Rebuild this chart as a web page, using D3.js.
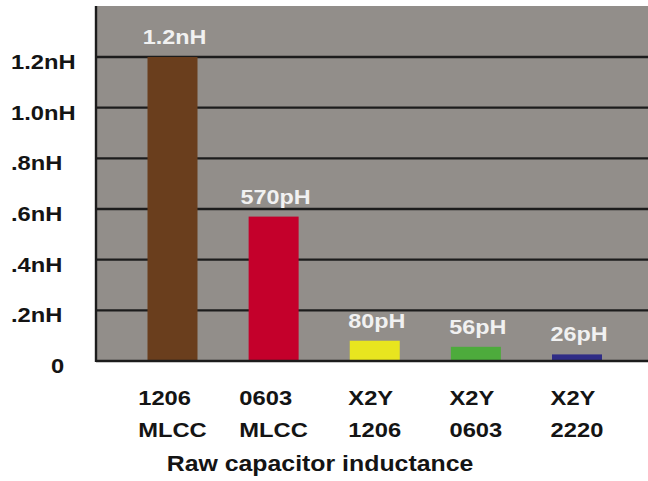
<!DOCTYPE html>
<html>
<head>
<meta charset="utf-8">
<script src="https://cdn.jsdelivr.net/npm/d3@7"></script>
<style>
  body { margin: 0; background: #fff; }
  text { font-family: "Liberation Sans", Arial, sans-serif; font-weight: bold; }
</style>
</head>
<body>
<script>
(function() {

    var width = 648;
    var height = 481;

    // data (values in nH)
    const parts = ["1206 MLCC", "0603 MLCC", "X2Y 1206", "X2Y 0603", "X2Y 2220"];
    const partLines = [["1206", "MLCC"], ["0603", "MLCC"], ["X2Y", "1206"], ["X2Y", "0603"], ["X2Y", "2220"]];
    const inductance = [1.2, 0.57, 0.08, 0.056, 0.026];
    const valueLabels = ["1.2nH", "570pH", "80pH", "56pH", "26pH"];
    const barColors = ["#6a3e1d", "#c4002b", "#e8e51f", "#4dab3c", "#2f2c86"];
    const yTicks = [0, 0.2, 0.4, 0.6, 0.8, 1.0, 1.2];
    const yTickLabels = ["0", ".2nH", ".4nH", ".6nH", ".8nH", "1.0nH", "1.2nH"];
    const xTitle = "Raw capacitor inductance";

    // plot box
    const left = 96, top = 6, right = 648, bottom = 361;

    const svg = d3.select("body")
      .append("svg")
      .attr("width", width)
      .attr("height", height);

    const x = d3.scalePoint()
        .domain(parts)
        .range([172.5, 577]);
    const barW = 50;

    const y = d3.scaleLinear()
        .domain([0, 1.2])
        .range([bottom, 57]);

    // gray background
    svg.append("rect")
        .attr("x", left)
        .attr("y", top)
        .attr("width", right - left)
        .attr("height", bottom - top)
        .attr("fill", "#928e8a");

    // gridlines
    svg.selectAll("line.grid")
        .data(yTicks.slice(1))
        .join("line")
        .attr("class", "grid")
        .attr("x1", left)
        .attr("x2", right)
        .attr("y1", d => y(d))
        .attr("y2", d => y(d))
        .attr("stroke", "#1c1c1c")
        .attr("stroke-width", 2.4);

    // bars
    svg.selectAll("rect.bar")
        .data(inductance)
        .join("rect")
        .attr("class", "bar")
        .attr("x", (d, i) => x(parts[i]) - barW / 2)
        .attr("y", d => y(d))
        .attr("width", barW)
        .attr("height", d => y(0) - y(d))
        .attr("fill", (d, i) => barColors[i]);

    // axis lines
    svg.append("line")
        .attr("x1", left).attr("x2", left)
        .attr("y1", top).attr("y2", bottom + 1)
        .attr("stroke", "#1c1c1c").attr("stroke-width", 2.4);
    svg.append("line")
        .attr("x1", left).attr("x2", right)
        .attr("y1", bottom).attr("y2", bottom)
        .attr("stroke", "#1c1c1c").attr("stroke-width", 2.4);

    // stretched text helper (the original type is wide)
    function wide(sel, sx) {
        sel.attr("transform", function() {
            const tx = +this.getAttribute("data-x"), ty = +this.getAttribute("data-y");
            return "translate(" + tx + "," + ty + ") scale(" + sx + ",1)";
        });
    }

    // value labels
    svg.selectAll("text.val")
        .data(inductance)
        .join("text")
        .attr("class", "val")
        .attr("data-x", (d, i) => x(parts[i]) + 2)
        .attr("data-y", d => y(d) - 13)
        .attr("text-anchor", "middle")
        .attr("font-size", 20)
        .attr("fill", "#f1f1f1")
        .text((d, i) => valueLabels[i])
        .call(wide, 1.17);

    // y tick labels, left aligned
    svg.selectAll("text.ytick")
        .data(yTicks)
        .join("text")
        .attr("class", "ytick")
        .attr("data-x", d => d === 0 ? 51 : 11)
        .attr("data-y", d => y(d) + 12)
        .attr("font-size", 21)
        .attr("fill", "#141414")
        .text((d, i) => yTickLabels[i])
        .call(wide, 1.13);

    // category labels: two lines, left aligned block centred under bar
    const cats = svg.selectAll("g.cat")
        .data(parts)
        .join("g")
        .attr("class", "cat");
    cats.each(function(d, i) {
        const g = d3.select(this);
        const t = g.append("text")
            .attr("font-size", 21)
            .attr("fill", "#141414");
        partLines[i].forEach((s, k) => {
            t.append("tspan").attr("x", 0).attr("y", k * 32).text(s);
        });
        const w = t.node().getBBox().width * 1.13;
        t.attr("transform", "translate(" + (x(d) - w / 2) + ",405) scale(1.13,1)");
    });

    // x title
    svg.append("text")
        .attr("data-x", 320)
        .attr("data-y", 471)
        .attr("text-anchor", "middle")
        .attr("font-size", 22)
        .attr("fill", "#141414")
        .text(xTitle)
        .call(wide, 1.13);

})();
</script>
</body>
</html>
